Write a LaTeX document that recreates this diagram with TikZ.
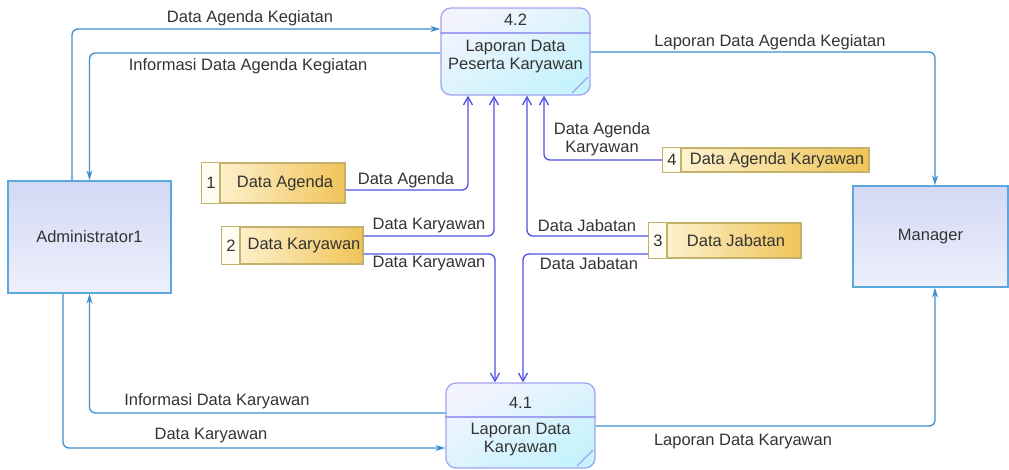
\documentclass[tikz,border=0pt]{standalone}
\usepackage{fontspec}
\setmainfont{Liberation Sans}
\usetikzlibrary{arrows.meta}
\definecolor{extblue}{HTML}{3C8FD0}
\definecolor{stblue}{HTML}{5050E6}
\definecolor{txt}{HTML}{333333}
\definecolor{entbord}{HTML}{5AA8DE}
\definecolor{enttop}{HTML}{D3D8F5}
\definecolor{entbot}{HTML}{EEF0FB}
\definecolor{procbord}{HTML}{A0A4F0}
\definecolor{proctop}{HTML}{F4F4FF}
\definecolor{procbot}{HTML}{C6F3FC}
\definecolor{storebord}{HTML}{C4B26A}
\definecolor{storeleft}{HTML}{FFF6DA}
\definecolor{storeright}{HTML}{F0C458}
\definecolor{cellfill}{HTML}{FFFDF2}
\tikzset{
  lbl/.style={text=txt, font=\fontsize{16.5}{18}\selectfont, inner sep=0pt, align=center},
  ext/.style={draw=extblue, line width=1.3pt, rounded corners=6pt, -{Stealth[length=10pt,width=6pt]}},
  st/.style={draw=stblue, line width=1.3pt, rounded corners=6pt, -{Straight Barb[length=8pt,width=9pt]}},
  entity/.style={draw=entbord, line width=1.4pt, top color=enttop, bottom color=entbot,
    text=txt, font=\fontsize{16.5}{18}\selectfont},
  proc/.style={draw=procbord, line width=1.3pt, rounded corners=10pt,
    top color=proctop, bottom color=procbot, shading angle=30},
  store/.style={draw=storebord, line width=1.2pt, left color=storeleft, right color=storeright},
  cellbox/.style={draw=storebord, line width=1.2pt, fill=cellfill},
}
\begin{document}
\begin{tikzpicture}[x=1pt,y=-1pt]
\useasboundingbox (0,0) rectangle (1009,469);

% external entities
\node[entity, minimum width=163, minimum height=112] (admin) at (89.5,237) {Administrator1};
\node[entity, minimum width=155, minimum height=101] (manager) at (930.5,236.5) {Manager};

% processes
\node[proc, minimum width=149, minimum height=87] (p42) at (515.5,51.5) {};
\draw[procbord, line width=1.1pt] (p42.west |- 0,33) -- (p42.east |- 0,33);
\draw[procbord, line width=1.1pt] (572,93) -- (588,77);
\node[lbl] (p42id) at (515.5,20) {4.2};
\node[lbl] (p42name) at (515.5,56.5) {Laporan Data\\Peserta Karyawan};

\node[proc, minimum width=149, minimum height=85] (p41) at (520.5,425.5) {};
\draw[procbord, line width=1.1pt] (p41.west |- 0,417) -- (p41.east |- 0,417);
\draw[procbord, line width=1.1pt] (577,466) -- (593,450);
\node[lbl] (p41id) at (520.5,403) {4.1};
\node[lbl] (p41name) at (520.5,440) {Laporan Data\\Karyawan};

% data stores
\node[store, minimum width=143, minimum height=40] (s1) at (273.5,183) {};
\draw[cellbox] (s1.north west) rectangle (s1.south west -| 220,0);
\node[lbl] (s1id) at (211,183) {1};
\node[lbl] (s1name) at (285,183) {Data Agenda};

\node[store, minimum width=141, minimum height=37] (s2) at (292.5,245.5) {};
\draw[cellbox] (s2.north west) rectangle (s2.south west -| 240,0);
\node[lbl] (s2id) at (231,245.5) {2};
\node[lbl] (s2name) at (304,245.5) {Data Karyawan};

\node[store, minimum width=152, minimum height=35] (s3) at (725,240.5) {};
\draw[cellbox] (s3.north west) rectangle (s3.south west -| 667,0);
\node[lbl] (s3id) at (658,240.5) {3};
\node[lbl] (s3name) at (736,240.5) {Data Jabatan};

\node[store, minimum width=206, minimum height=24] (s4) at (766,160) {};
\draw[cellbox] (s4.north west) rectangle (s4.south west -| 681,0);
\node[lbl] (s4id) at (672,160) {4};
\node[lbl] (s4name) at (777,160) {Data Agenda Karyawan};

% flows between entities and processes
\draw[ext] (admin.north -| 72,0) |- (p42.west |- 0,29);
\draw[ext] (p42.west |- 0,53) -| (admin.north);
\draw[ext] (p42.east |- 0,52) -| (manager.north -| 935,0);
\draw[ext] (p41.east |- 0,426) -| (manager.south -| 935,0);
\draw[ext] (p41.west |- 0,413) -| (admin.south);
\draw[ext] (admin.south -| 63,0) |- (p41.west |- 0,448);

% flows between data stores and processes
\draw[st] (s1.east |- 0,190) -| (p42.south -| 468,0);
\draw[st] (s2.east |- 0,236) -| (p42.south -| 494,0);
\draw[st] (s2.east |- 0,254) -| (p41.north -| 495,0);
\draw[st] (s3.west |- 0,236) -| (p42.south -| 527,0);
\draw[st] (s3.west |- 0,254) -| (p41.north -| 523,0);
\draw[st] (s4.west |- 0,160) -| (p42.south -| 544,0);

% flow labels
\node[lbl] (l1) at (250,18) {Data Agenda Kegiatan};
\node[lbl] (l2) at (248,66) {Informasi Data Agenda Kegiatan};
\node[lbl] (l3) at (770,42) {Laporan Data Agenda Kegiatan};
\node[lbl] (l4) at (217,401) {Informasi Data Karyawan};
\node[lbl] (l5) at (211,436) {Data Karyawan};
\node[lbl] (l6) at (743,442) {Laporan Data Karyawan};
\node[lbl] (l7) at (406,180) {Data Agenda};
\node[lbl] (l8) at (429,226) {Data Karyawan};
\node[lbl] (l9) at (429,264) {Data Karyawan};
\node[lbl] (l10) at (587,226) {Data Jabatan};
\node[lbl] (l11) at (589,264) {Data Jabatan};
\node[lbl] (l12) at (602,139) {Data Agenda\\Karyawan};
\end{tikzpicture}
\end{document}
